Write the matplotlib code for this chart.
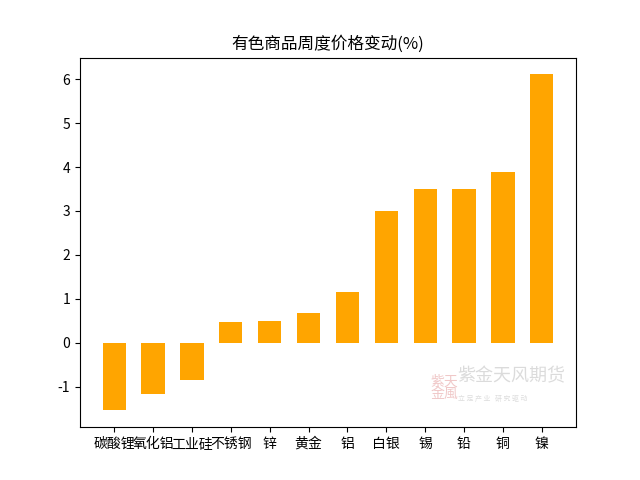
import matplotlib
matplotlib.use("Agg")
import matplotlib.pyplot as plt

plt.rcParams['font.family'] = ['Noto Sans CJK SC', 'DejaVu Sans']
plt.rcParams['axes.unicode_minus'] = False

categories = ['碳酸锂', '氧化铝', '工业硅', '不锈钢', '锌', '黄金', '铝', '白银', '锡', '铅', '铜', '镍']
values = [-1.54, -1.17, -0.84, 0.48, 0.50, 0.68, 1.16, 3.01, 3.49, 3.49, 3.88, 6.11]

fig, ax = plt.subplots(figsize=(6.4, 4.8), dpi=100)
ax.bar(categories, values, width=0.6, color='orange')
ax.set_title('有色商品周度价格变动(%)')

# watermark
fig.text(0.715, 0.205, '紫金天风期货', fontsize=13, color='#d8d8d8', alpha=0.9)
fig.text(0.715, 0.165, '立 足 产 业   研 究 驱 动', fontsize=5, color='#dddddd')
fig.text(0.672, 0.17, '紫天\n金風', fontsize=10, color='#f0c8c8', linespacing=0.9)

fig.savefig('out.png', dpi=100)
